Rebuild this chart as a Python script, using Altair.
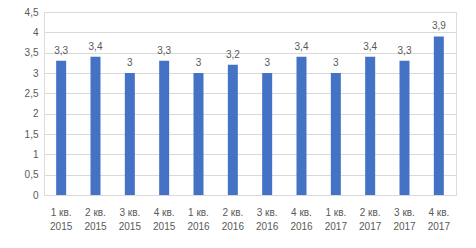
import altair as alt
import pandas as pd

quarters = ["1 кв.", "2 кв.", "3 кв.", "4 кв.", "1 кв.", "2 кв.", "3 кв.", "4 кв.", "1 кв.", "2 кв.", "3 кв.", "4 кв."]
years = ["2015", "2015", "2015", "2015", "2016", "2016", "2016", "2016", "2017", "2017", "2017", "2017"]
values = [3.3, 3.4, 3.0, 3.3, 3.0, 3.2, 3.0, 3.4, 3.0, 3.4, 3.3, 3.9]
y_ticks = [0, 0.5, 1, 1.5, 2, 2.5, 3, 3.5, 4, 4.5]

cats = [f"{q}|{y}" for q, y in zip(quarters, years)]
df = pd.DataFrame({"cat": cats, "value": values})

x = alt.X("cat:N", sort=cats, title=None,
          scale=alt.Scale(paddingInner=0.7, paddingOuter=0.35),
          axis=alt.Axis(labelExpr="split(datum.value, '|')", labelAngle=0,
                        labelFont="Liberation Sans", labelFontSize=10, labelColor="#595959",
                        labelPadding=12, ticks=False, domain=True, domainColor="#d9d9d9",
                        labelLineHeight=14))
y = alt.Y("value:Q", title=None,
          scale=alt.Scale(domain=[0, 4.5], nice=False),
          axis=alt.Axis(values=y_ticks, labelOverlap=False,
                        labelExpr="replace(format(datum.value, ''), '.', ',')",
                        labelFont="Liberation Sans", labelFontSize=10, labelColor="#595959",
                        ticks=False, domain=False, gridColor="#d9d9d9", labelPadding=6))

base = alt.Chart(df).encode(x=x, y=y)
bars = base.mark_bar(color="#4472C4", size=10)
text = base.transform_calculate(
    lbl="replace(format(datum.value, ''), '.', ',')"
).mark_text(dy=-10, font="Liberation Sans", fontSize=10, color="#595959").encode(text="lbl:N")

chart = (bars + text).properties(
    width=412, height=183,
    autosize=alt.AutoSizeParams(type="none"),
    padding={"left": 44, "top": 12, "right": 20, "bottom": 53},
).configure_view(stroke=None).configure(background="white")

chart.save("out.html", embed_options={"renderer": "svg", "actions": False})
